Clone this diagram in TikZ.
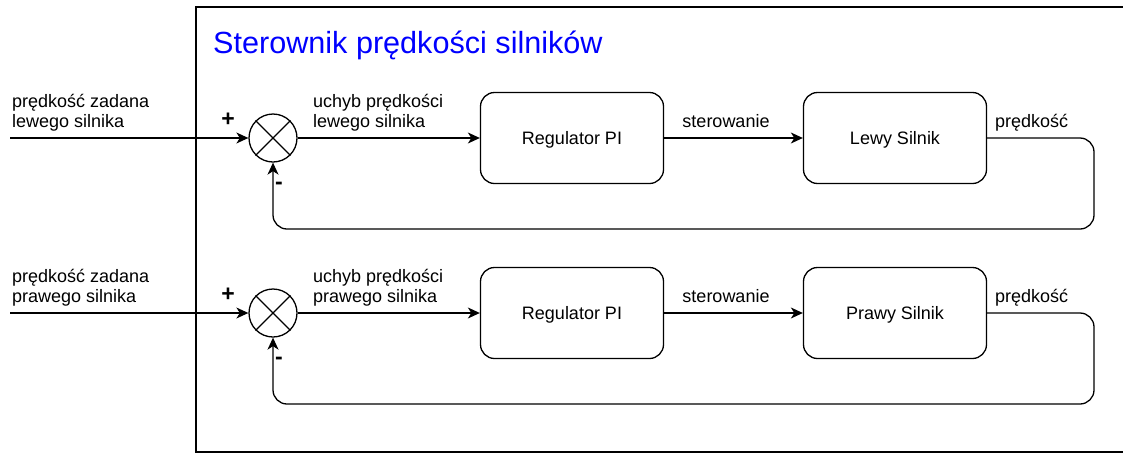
\documentclass[tikz,border=0pt]{standalone}
\usepackage{fontspec}
\setmainfont{Liberation Sans}
\usetikzlibrary{arrows.meta}
\definecolor{ttl}{RGB}{0,0,255}
\newcommand{\fsz}{\fontsize{18}{20}\selectfont}
\newcommand{\gsz}{\fontsize{23}{26}\selectfont}
\newcommand{\tsz}{\fontsize{30.6}{36}\selectfont}
\begin{document}
\begin{tikzpicture}[x=1pt,y=-1pt,
  ln/.style={line width=1.3pt, draw=black},
  arr/.style={ln, -{Stealth[length=12pt,width=11pt,inset=3.5pt]}},
  blk/.style={ln, rounded corners=14pt, minimum width=183pt, minimum height=91pt, inner sep=0pt, text height=12.9pt, text depth=0pt, font=\fsz},
  lbl/.style={anchor=base west, inner sep=0pt, font=\fsz},
  clbl/.style={anchor=base, inner sep=0pt, font=\fsz},
  sumc/.style={ln, circle, minimum size=48pt, inner sep=0pt},
  sgn/.style={inner sep=0pt, font=\gsz\bfseries}
]
\useasboundingbox (0,0) rectangle (1123,453);
\draw[ln] (196,7) rectangle (1140,452);
\node[anchor=base west, inner sep=0pt, font=\tsz, text=ttl] (title) at (213,53) {Sterownik prędkości silników};

% ---- row 1 ----
\coordinate (in1) at (10,138);
\node[sumc] (s1) at (273,138) {};
\draw[ln] (s1.north east) -- (s1.south west) (s1.north west) -- (s1.south east);
\node[blk] (r1) at (572,138) {Regulator PI};
\node[blk] (m1) at (895,138) {Lewy Silnik};
\coordinate (fb1) at (1094,229);
\draw[arr] (in1) -- (s1.west);
\draw[arr] (s1.east) -- (r1.west);
\draw[arr] (r1.east) -- (m1.west);
\draw[arr, rounded corners=14pt] (m1.east) -| (fb1) -| (s1.south);
\node[lbl] (a1) at (12,107) {prędkość zadana};
\node[lbl] (a2) at (12,127) {lewego silnika};
\node[lbl] (b1) at (313,107) {uchyb prędkości};
\node[lbl] (b2) at (313,127) {lewego silnika};
\node[clbl] (c1) at (726,127) {sterowanie};
\node[lbl] (d1) at (995,127) {prędkość};
\node[sgn] (p1) at (228,120) {+};
\node[sgn] (n1) at (279,186) {-};

% ---- row 2 ----
\coordinate (in2) at (10,313);
\node[sumc] (s2) at (273,313) {};
\draw[ln] (s2.north east) -- (s2.south west) (s2.north west) -- (s2.south east);
\node[blk] (r2) at (572,313) {Regulator PI};
\node[blk] (m2) at (895,313) {Prawy Silnik};
\coordinate (fb2) at (1094,404);
\draw[arr] (in2) -- (s2.west);
\draw[arr] (s2.east) -- (r2.west);
\draw[arr] (r2.east) -- (m2.west);
\draw[arr, rounded corners=14pt] (m2.east) -| (fb2) -| (s2.south);
\node[lbl] (a3) at (12,282) {prędkość zadana};
\node[lbl] (a4) at (12,302) {prawego silnika};
\node[lbl] (b3) at (313,282) {uchyb prędkości};
\node[lbl] (b4) at (313,302) {prawego silnika};
\node[clbl] (c2) at (726,302) {sterowanie};
\node[lbl] (d2) at (995,302) {prędkość};
\node[sgn] (p2) at (228,295) {+};
\node[sgn] (n2) at (279,361) {-};
\end{tikzpicture}
\end{document}
